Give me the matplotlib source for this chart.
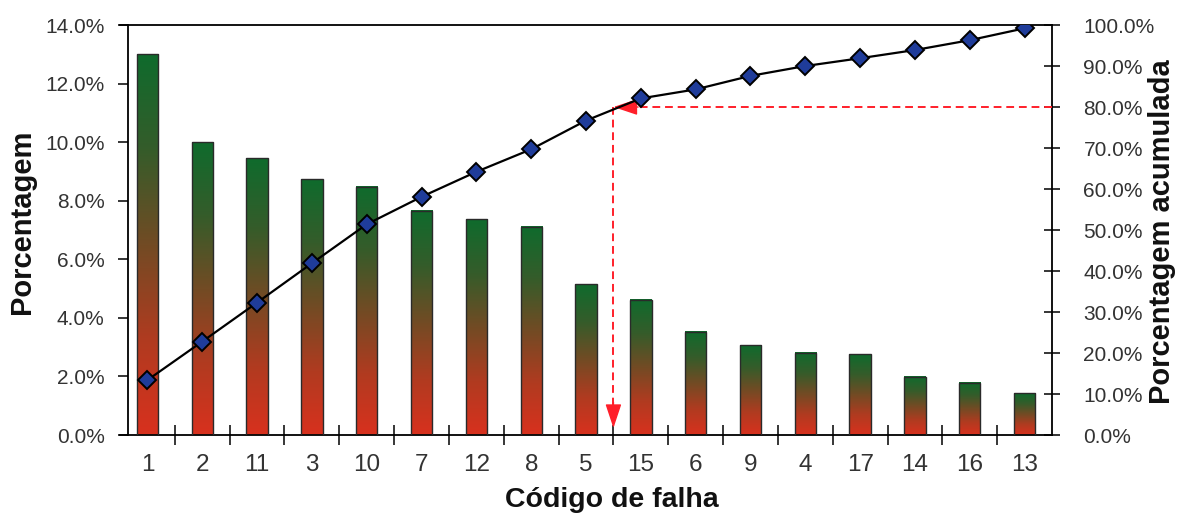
import numpy as np
import matplotlib
matplotlib.use("Agg")
import matplotlib.pyplot as plt
from matplotlib.colors import LinearSegmentedColormap
from matplotlib.ticker import FuncFormatter, MultipleLocator, FixedLocator

# Pareto de falhas: porcentagem por código e porcentagem acumulada
codigos = ['1', '2', '11', '3', '10', '7', '12', '8', '5', '15', '6', '9', '4', '17', '14', '16', '13']
porcentagem = [13.0, 10.0, 9.45, 8.73, 8.48, 7.65, 7.36, 7.11, 5.15, 4.61, 3.53, 3.07, 2.81, 2.75, 1.99, 1.79, 1.42]
acumulada = [13.4, 22.8, 32.3, 41.9, 51.4, 58.1, 64.2, 69.7, 76.7, 82.1, 84.3, 87.6, 90.0, 91.9, 93.9, 96.3, 99.2]
limite_pareto = 80.0
corte = 8.5  # fronteira entre o código 5 e o 15

narrow = ['Liberation Sans Narrow', 'Liberation Sans', 'DejaVu Sans']
sans = ['Liberation Sans', 'DejaVu Sans']
cor_txt = '#333333'
vermelho = '#ff1f2a'

# degradê vermelho (base) -> verde (topo)
cmap = LinearSegmentedColormap.from_list(
    'falhas', ['#d8311e', '#b03b20', '#724b24', '#355c2a', '#0f6b2d'])

fig = plt.figure(figsize=(11.79, 5.18), dpi=100)
ax1 = fig.add_axes([0.1018, 0.1602, 0.7905, 0.7915])
ax2 = ax1.twinx()

x = np.arange(len(codigos))
barras = ax1.bar(x, porcentagem, width=0.39, facecolor='none',
                 edgecolor='#2a2a2a', linewidth=1.0, zorder=3)
grad = np.linspace(0, 1, 256).reshape(-1, 1)
for b in barras:
    x0, w, h = b.get_x(), b.get_width(), b.get_height()
    ax1.imshow(grad, extent=[x0, x0 + w, 0, h], origin='lower', cmap=cmap,
               aspect='auto', interpolation='bicubic', zorder=2)

ax1.set_xlim(-0.5, len(codigos) - 0.5)
ax1.set_ylim(0, 14)
ax2.set_ylim(0, 100)

# linha acumulada
ax2.plot(x, acumulada, color='black', lw=1.6, marker='D', markersize=9,
         markerfacecolor='#1f3c9a', markeredgecolor='black', markeredgewidth=1.4,
         zorder=5)

# linhas de corte a 80 %
ax2.plot([len(codigos) - 0.5, corte + 0.3], [limite_pareto, limite_pareto],
         color=vermelho, lw=1.4, linestyle=(0, (4, 2.5)), zorder=4)
ax2.plot([corte, corte], [limite_pareto, 6], color=vermelho, lw=1.4,
         linestyle=(0, (4, 2.5)), zorder=4)
seta = dict(arrowstyle='-|>,head_length=1.5,head_width=0.5', color=vermelho,
            lw=1.0, shrinkA=0, shrinkB=0, mutation_scale=10)
ax2.annotate('', xy=(corte, limite_pareto), xytext=(corte + 0.45, limite_pareto),
             arrowprops=seta, zorder=4)
ax2.annotate('', xy=(corte, 1.7), xytext=(corte, 8), arrowprops=seta, zorder=4)

# eixos
ax1.spines['right'].set_visible(False)
for s in ['left', 'top', 'bottom']:
    ax2.spines[s].set_visible(False)
ax1.spines['left'].set_position(('axes', 0.0086))
for s in ['left', 'top', 'bottom']:
    ax1.spines[s].set_linewidth(1.3)
ax2.spines['right'].set_linewidth(1.3)

ax1.xaxis.set_major_locator(FixedLocator(x))
ax1.set_xticklabels(codigos)
ax1.xaxis.set_minor_locator(FixedLocator(np.arange(0.5, len(codigos) - 1, 1.0)))
ax1.tick_params(axis='x', which='major', length=0, pad=14, labelsize=17.5,
                labelcolor=cor_txt)
ax1.tick_params(axis='x', which='minor', direction='inout', length=13.7, width=1.1)
for t in ax1.get_xticklabels():
    t.set_family(sans)

ax1.yaxis.set_major_locator(MultipleLocator(2))
ax1.yaxis.set_major_formatter(FuncFormatter(lambda v, p: f'{v:.1f}%'))
ax1.tick_params(axis='y', direction='out', length=7.5, width=1.1, pad=9.4,
                labelsize=15, labelcolor=cor_txt)
ax2.yaxis.set_major_locator(MultipleLocator(10))
ax2.yaxis.set_major_formatter(FuncFormatter(lambda v, p: f'{v:.1f}%'))
ax2.tick_params(axis='y', direction='inout', length=12.2, width=1.1, pad=16.5,
                labelsize=15, labelcolor=cor_txt)
for t in ax1.get_yticklabels() + ax2.get_yticklabels():
    t.set_family(narrow)

ax1.set_xlabel('Código de falha', fontsize=20.5, fontweight='bold',
               family=sans, color='#111111', va='center', ha='center')
ax1.xaxis.set_label_coords(0.528, -0.159)
ax1.set_ylabel('Porcentagem', fontsize=21, fontweight='bold', family=sans,
               color='#111111', va='center', ha='center')
ax1.yaxis.set_label_coords(-0.105, 0.52)
ax2.set_ylabel('Porcentagem acumulada', fontsize=21, fontweight='bold',
               family=sans, color='#111111', va='center', ha='center')
ax2.yaxis.set_label_coords(1.118, 0.495)

fig.savefig('out.png', dpi=100)
